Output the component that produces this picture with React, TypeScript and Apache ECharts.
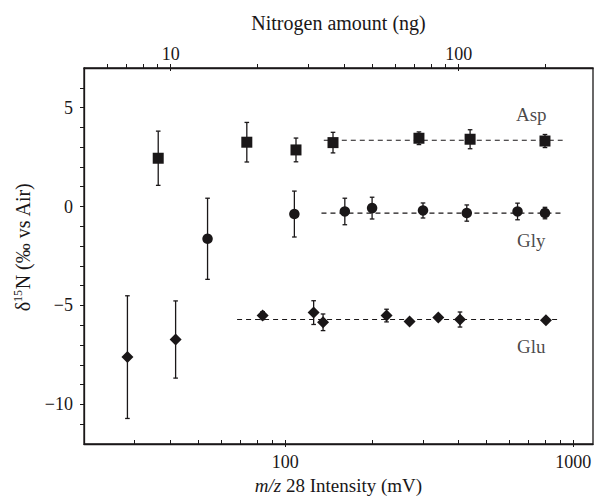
import React, { useEffect, useRef } from 'react';
import * as echarts from 'echarts';

// ---- data (m/z 28 intensity in mV, δ15N in ‰) ----
const aspX = [36.2, 73.5, 108.9, 146.4, 291, 438, 797];
const aspY = [2.44, 3.25, 2.86, 3.23, 3.45, 3.40, 3.31];
const aspErr = [1.37, 1.0, 0.6, 0.52, 0.32, 0.48, 0.33];

const glyX = [53.7, 107.5, 160.9, 200.1, 300.6, 426.6, 640, 797];
const glyY = [-1.63, -0.38, -0.25, -0.08, -0.20, -0.33, -0.25, -0.33];
const glyErr = [2.05, 1.16, 0.67, 0.55, 0.38, 0.41, 0.42, 0.29];

const gluX = [28.3, 41.6, 83.4, 125.4, 135.2, 224.6, 270, 339.8, 404, 803];
const gluY = [-7.61, -6.72, -5.51, -5.36, -5.85, -5.51, -5.81, -5.61, -5.71, -5.75];
const gluErr = [3.1, 1.95, 0.2, 0.6, 0.42, 0.32, 0.12, 0.15, 0.38, 0.12];

// mean lines: [mean, xStart, xEnd]
const aspMean = [3.35, 136, 918];
const glyMean = [-0.33, 133.5, 918];
const gluMean = [-5.71, 68, 906];

const seriesNames = ['Asp', 'Gly', 'Glu'];
const nameX = [714, 714, 714];
const nameY = [4.67, -1.73, -7.07];

const bottomMajor = [100, 1000];
const bottomMinor = [30, 40, 50, 60, 70, 80, 90, 200, 300, 400, 500, 600, 700, 800, 900];
const topMajor = [10, 100];
const topMinor = [6, 7, 8, 9, 20, 30, 40, 50, 60, 70, 80, 90, 200];
const yMajor = [-10, -5, 0, 5];
const yMinor = [-11, -10, -9, -8, -7, -6, -5, -4, -3, -2, -1, 0, 1, 2, 3, 4, 5, 6];

const FONT = "'Liberation Serif', 'Times New Roman', serif";
const INK = '#1a1718';

function errData(xs: number[], ys: number[], es: number[]) {
  return xs.map((x, i) => [x, ys[i] - es[i], ys[i] + es[i]]);
}
function pts(xs: number[], ys: number[]) {
  return xs.map((x, i) => [x, ys[i]]);
}
function meanLine(m: number[]) {
  return [[m[1], m[0]], [m[2], m[0]]];
}

const renderErr = (params: any, api: any) => {
  const x = api.value(0);
  const lo = api.value(1);
  const hi = api.value(2);
  const p1 = api.coord([x, hi]);
  const p2 = api.coord([x, lo]);
  const cw = 2.3;
  const st = { stroke: INK, lineWidth: 1.3 };
  return {
    type: 'group',
    children: [
      { type: 'line', shape: { x1: p1[0], y1: p1[1], x2: p2[0], y2: p2[1] }, style: st },
      { type: 'line', shape: { x1: p1[0] - cw, y1: p1[1], x2: p1[0] + cw, y2: p1[1] }, style: st },
      { type: 'line', shape: { x1: p2[0] - cw, y1: p2[1], x2: p2[0] + cw, y2: p2[1] }, style: st },
    ],
  };
};

const fmtNum = (v: number) => (v < 0 ? '\u2212' + Math.abs(v) : String(v));

export default function App() {
  const ref = useRef<HTMLDivElement>(null);
  useEffect(() => {
    if (!ref.current) return;
    const chart = echarts.init(ref.current, undefined, { renderer: 'svg' });
    const labelStyle = { fontFamily: FONT, fontSize: 18, color: INK };
    const errSeries = (data: number[][]) => ({
      type: 'custom',
      xAxisIndex: 0,
      yAxisIndex: 0,
      renderItem: renderErr,
      data,
      encode: { x: 0, y: [1, 2] },
      z: 3,
      silent: true,
    });
    const dashSeries = (data: number[][]) => ({
      type: 'line',
      xAxisIndex: 0,
      yAxisIndex: 0,
      data,
      symbol: 'none',
      lineStyle: { color: INK, width: 1.2, type: [5, 4] },
      z: 2,
      silent: true,
    });
    const markSeries = (data: number[][], symbol: string, size: number | number[]) => ({
      type: 'scatter',
      xAxisIndex: 0,
      yAxisIndex: 0,
      data,
      symbol,
      symbolSize: size,
      itemStyle: { color: INK, opacity: 1 },
      z: 4,
      silent: true,
    });
    chart.setOption({
      animation: false,
      backgroundColor: '#ffffff',
      grid: {
        left: 84,
        top: 68,
        width: 509,
        height: 376,
        show: true,
        borderColor: INK,
        borderWidth: 1.3,
        backgroundColor: 'transparent',
        containLabel: false,
        outerBoundsMode: 'none',
      },
      xAxis: [
        {
          type: 'log',
          logBase: 10,
          position: 'bottom',
          min: 20,
          max: 1170,
          axisLine: { show: true, onZero: false, lineStyle: { color: INK, width: 1.3 } },
          axisTick: {
            show: true,
            inside: true,
            length: 4,
            customValues: [...bottomMinor, ...bottomMajor],
            lineStyle: { color: INK, width: 1 },
          },
          minorTick: { show: false },
          axisLabel: {
            ...labelStyle,
            customValues: bottomMajor,
            margin: 9,
            formatter: (v: number) => String(Math.round(v)),
          },
          splitLine: { show: false },
          name: '{i|m/z} 28 Intensity (mV)',
          nameLocation: 'middle',
          nameGap: 26,
          nameTextStyle: {
            fontFamily: FONT,
            fontSize: 19,
            lineHeight: 20,
            color: INK,
            rich: { i: { fontFamily: FONT, fontSize: 19, lineHeight: 20, fontStyle: 'italic', color: INK } },
          },
        },
        {
          type: 'log',
          logBase: 10,
          position: 'bottom',
          min: 20,
          max: 1170,
          axisLine: { show: false, onZero: false },
          axisTick: {
            show: true,
            inside: false,
            length: 3,
            customValues: bottomMajor,
            lineStyle: { color: INK, width: 1 },
          },
          axisLabel: { show: false },
          splitLine: { show: false },
        },
        {
          type: 'log',
          logBase: 10,
          position: 'top',
          min: 5,
          max: 292.5,
          axisLine: { show: true, onZero: false, lineStyle: { color: INK, width: 1.3 } },
          axisTick: {
            show: true,
            inside: false,
            length: 4,
            customValues: [...topMinor, ...topMajor],
            lineStyle: { color: INK, width: 1 },
          },
          axisLabel: {
            ...labelStyle,
            customValues: topMajor,
            margin: 5,
            formatter: (v: number) => String(Math.round(v)),
          },
          splitLine: { show: false },
          name: 'Nitrogen amount (ng)',
          nameLocation: 'middle',
          nameGap: 35,
          nameTextStyle: { fontFamily: FONT, fontSize: 20, color: INK },
        },
        {
          type: 'log',
          logBase: 10,
          position: 'top',
          min: 5,
          max: 292.5,
          axisLine: { show: false, onZero: false },
          axisTick: {
            show: true,
            inside: true,
            length: 3,
            customValues: topMajor,
            lineStyle: { color: INK, width: 1 },
          },
          axisLabel: { show: false },
          splitLine: { show: false },
        },
      ],
      yAxis: [
        {
          type: 'value',
          min: -12,
          max: 7,
          axisLine: { show: true, onZero: false, lineStyle: { color: INK, width: 1.3 } },
          axisTick: {
            show: true,
            inside: false,
            length: 4,
            customValues: yMinor,
            lineStyle: { color: INK, width: 1 },
          },
          axisLabel: {
            ...labelStyle,
            customValues: yMajor,
            margin: 11,
            formatter: fmtNum,
          },
          splitLine: { show: false },
          name: '{d|\u03b4}{s|15}{d|N (\u2030 vs Air)}',
          nameLocation: 'middle',
          nameRotate: 90,
          nameGap: 50,
          nameTextStyle: {
            fontFamily: FONT,
            fontSize: 20,
            color: INK,
            padding: [0, 0, 0, 18],
            rich: {
              d: { fontFamily: FONT, fontSize: 20, color: INK, lineHeight: 22 },
              s: { fontFamily: FONT, fontSize: 12, color: INK, verticalAlign: 'top', lineHeight: 22 },
            },
          },
        },
      ],
      series: [
        dashSeries(meanLine(aspMean)),
        dashSeries(meanLine(glyMean)),
        dashSeries(meanLine(gluMean)),
        errSeries(errData(aspX, aspY, aspErr)),
        errSeries(errData(glyX, glyY, glyErr)),
        errSeries(errData(gluX, gluY, gluErr)),
        markSeries(pts(aspX, aspY), 'rect', 11),
        markSeries(pts(glyX, glyY), 'circle', 10.5),
        markSeries(pts(gluX, gluY), 'diamond', 12),
        {
          type: 'scatter',
          xAxisIndex: 0,
          yAxisIndex: 0,
          symbolSize: 0,
          silent: true,
          data: seriesNames.map((n, i) => ({ name: n, value: [nameX[i], nameY[i]] })),
          label: {
            show: true,
            position: 'inside',
            formatter: '{b}',
            fontFamily: FONT,
            fontSize: 19,
            color: INK,
          },
          z: 5,
        },
      ],
    });
    return () => chart.dispose();
  }, []);
  return (
    <div
      ref={ref}
      style={{ position: 'fixed', left: 0, top: 0, width: 596, height: 496, background: '#fff' }}
    />
  );
}
